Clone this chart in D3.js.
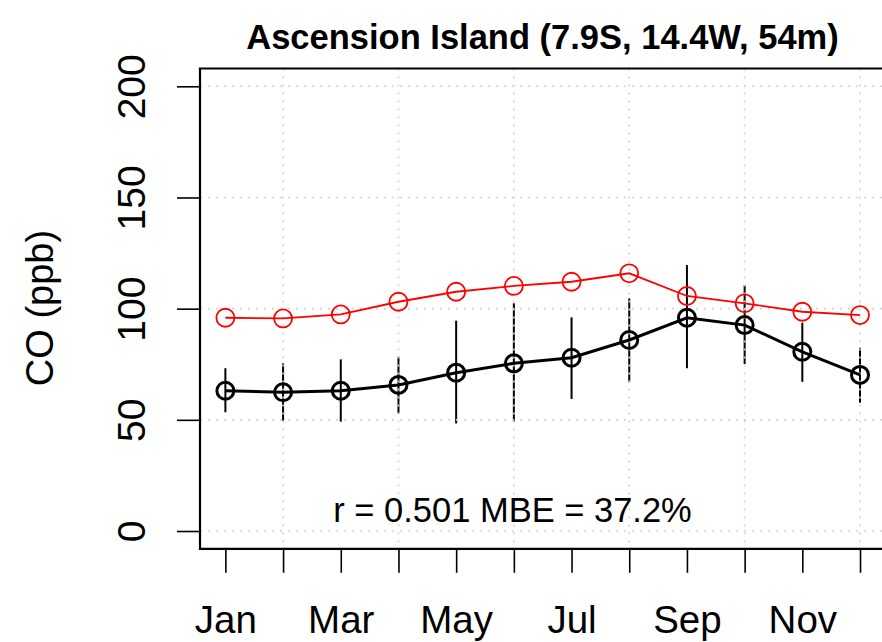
<!DOCTYPE html>
<html><head><meta charset="utf-8">
<script src="https://cdn.jsdelivr.net/npm/d3@7"></script>
<style>body{margin:0;background:#fff}svg{display:block}text{font-family:"Liberation Sans",Arial,sans-serif}</style>
</head><body>
<svg id="c" width="882" height="642"></svg>
<script>
const months = ["Jan","Feb","Mar","Apr","May","Jun","Jul","Aug","Sep","Oct","Nov","Dec"];
const monthIdx = [1,2,3,4,5,6,7,8,9,10,11,12];
const xLabelMonths = [1,3,5,7,9,11];
const gridMonths = [2,4,6,8,10,12];
const yTicks = [0,50,100,150,200];
const modelCO = [95.9, 95.6, 97.4, 103.1, 107.6, 110.2, 112.1, 115.9, 105.7, 102.4, 98.6, 97.1];
const obsCO = [63.1, 62.4, 63.1, 65.7, 71.2, 75.4, 77.9, 85.9, 95.9, 92.6, 80.6, 70.2];
const obsLow = [53.4, 49.6, 49.2, 52.9, 48.4, 49.2, 59.4, 66.9, 73.2, 75.1, 67.1, 57.7];
const obsHigh = [73.2, 75.4, 77.2, 78.4, 94.6, 102.4, 96.1, 104.6, 119.6, 110.6, 93.7, 82.4];
const title = "Ascension Island (7.9S, 14.4W, 54m)";
const statsText = "r = 0.501 MBE = 37.2%";
const yLabel = "CO (ppb)";

const svg = d3.select("#c");
const L = 200, R = 885.4, T = 68.5, B = 548.8;
const x = d3.scaleLinear().domain([0.56, 12.44]).range([L, R]);
const y = d3.scaleLinear().domain([-8, 208]).range([B, T]);

// error bars
svg.append("g").selectAll("line").data(monthIdx).join("line")
  .attr("x1", d => x(d)).attr("x2", d => x(d))
  .attr("y1", (d,i) => y(obsLow[i])).attr("y2", (d,i) => y(obsHigh[i]))
  .attr("stroke", "#000").attr("stroke-width", 2);

// grid
const grid = svg.append("g").attr("stroke", "#d3d3d3").attr("stroke-width", 1.6).attr("stroke-dasharray", "2,6");
grid.selectAll(".h").data(yTicks).join("line")
  .attr("x1", L).attr("x2", R).attr("y1", d => y(d)).attr("y2", d => y(d));
grid.selectAll(".v").data(gridMonths).join("line")
  .attr("x1", d => x(d)).attr("x2", d => x(d)).attr("y1", T).attr("y2", B);

// model (red)
svg.append("path").datum(modelCO)
  .attr("d", d3.line().x((d,i) => x(monthIdx[i])).y(d => y(d)))
  .attr("fill", "none").attr("stroke", "#ff0000").attr("stroke-width", 1.8);
svg.append("g").selectAll("circle").data(modelCO).join("circle")
  .attr("cx", (d,i) => x(monthIdx[i])).attr("cy", d => y(d)).attr("r", 9)
  .attr("fill", "none").attr("stroke", "#ff0000").attr("stroke-width", 1.8);

// observations (black)
svg.append("path").datum(obsCO)
  .attr("d", d3.line().x((d,i) => x(monthIdx[i])).y(d => y(d)))
  .attr("fill", "none").attr("stroke", "#000").attr("stroke-width", 3);
svg.append("g").selectAll("circle").data(obsCO).join("circle")
  .attr("cx", (d,i) => x(monthIdx[i])).attr("cy", d => y(d)).attr("r", 8.5)
  .attr("fill", "none").attr("stroke", "#000").attr("stroke-width", 3);

// box (left, top, bottom)
svg.append("path").attr("d", `M${R},${T}H${L}V${B}H${R}`)
  .attr("fill", "none").attr("stroke", "#000").attr("stroke-width", 2.2);

// x axis
const xAxis = svg.append("g").attr("transform", `translate(0,${B})`)
  .call(d3.axisBottom(x).tickValues(monthIdx).tickSize(24).tickFormat(d => xLabelMonths.includes(d) ? months[d-1] : ""));
xAxis.select(".domain").remove();
xAxis.selectAll(".tick line").attr("stroke-width", 1.6);
xAxis.selectAll(".tick text").attr("font-size", 38.5).attr("fill", "#000")
  .attr("font-family", "Liberation Sans, Arial, sans-serif").attr("dy", null).attr("y", 84);

// y axis
const yAxis = svg.append("g").attr("transform", `translate(${L},0)`)
  .call(d3.axisLeft(y).tickValues(yTicks).tickSize(23).tickFormat(d3.format("d")));
yAxis.select(".domain").remove();
yAxis.selectAll(".tick line").attr("stroke-width", 1.6);
yAxis.selectAll(".tick text").attr("font-size", 39).attr("fill", "#000")
  .attr("font-family", "Liberation Sans, Arial, sans-serif")
  .attr("x", null).attr("dy", null).attr("text-anchor", "middle")
  .attr("transform", "translate(-55,0) rotate(-90)");

// title
svg.append("text").attr("x", 542.5).attr("y", 49).attr("text-anchor", "middle")
  .attr("font-size", 34.5).attr("font-weight", "bold").text(title);

// stats
svg.append("text").attr("x", 512.5).attr("y", 522).attr("text-anchor", "middle")
  .attr("font-size", 34.5).text(statsText);

// y label
svg.append("text").attr("transform", "translate(53,308) rotate(-90)").attr("text-anchor", "middle")
  .attr("font-size", 38).text(yLabel);
</script>
</body></html>
